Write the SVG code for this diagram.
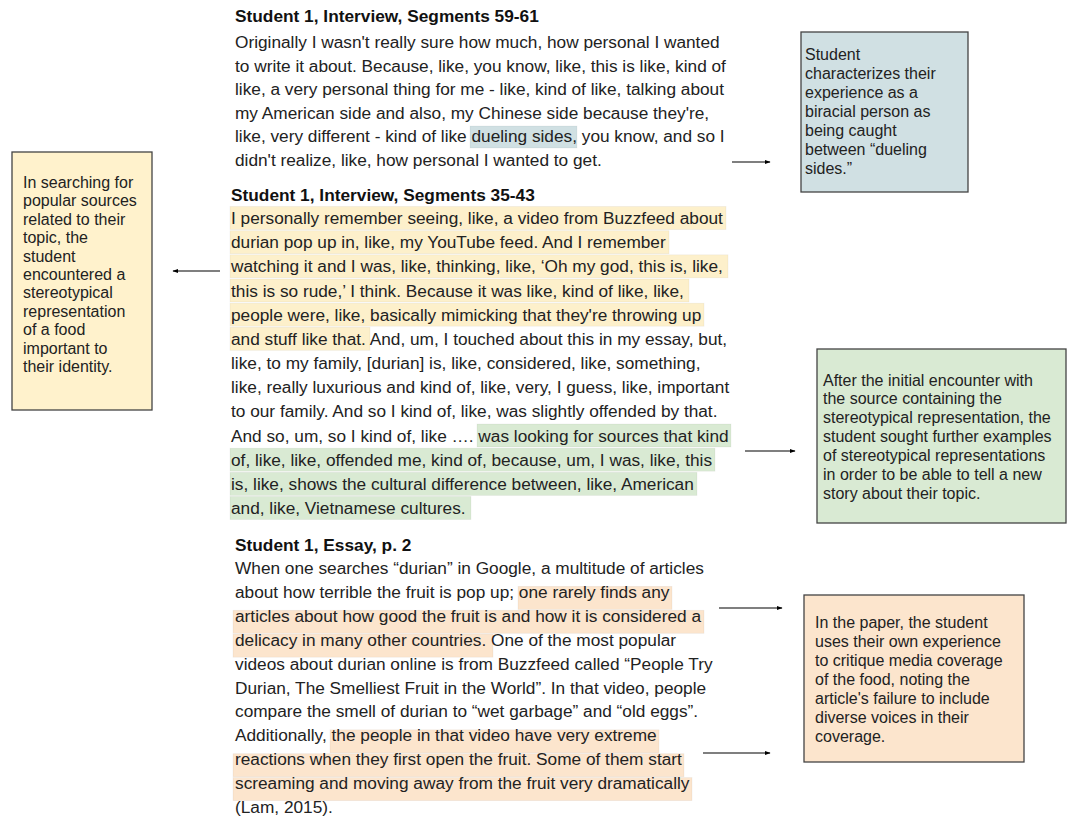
<svg xmlns="http://www.w3.org/2000/svg" width="1067" height="820" viewBox="0 0 1067 820">
<defs>
<style>
.body{font-family:"Liberation Sans",Arial,sans-serif;font-size:17.25px;fill:#222}
.head{font-family:"Liberation Sans",Arial,sans-serif;font-size:17.3px;font-weight:bold;fill:#111}
.note{font-family:"Liberation Sans",Arial,sans-serif;font-size:16px;fill:#222}
.box{stroke:#444;stroke-width:1.3}
.hy{fill:#fdf0cb;stroke:#000;stroke-opacity:0.05;stroke-width:0.8}
.hg{fill:#d9ead3;stroke:#000;stroke-opacity:0.05;stroke-width:0.8}
.ho{fill:#fce5cd;stroke:#000;stroke-opacity:0.05;stroke-width:0.8}
.hb{fill:#d0e0e3;stroke:#000;stroke-opacity:0.05;stroke-width:0.8}
.conn{stroke:#000;stroke-width:1.2;fill:none;marker-end:url(#ah)}
</style>
<marker id="ah" viewBox="0 0 10 10" refX="9" refY="5" markerWidth="6" markerHeight="6" orient="auto" markerUnits="userSpaceOnUse">
<path d="M0,1.5 L10,5 L0,8.5 Z" fill="#000"/>
</marker>
</defs>
<rect width="1067" height="820" fill="#fff"/>

<g id="excerpt-1">
<rect class="hb" x="470" y="126" width="107" height="22"/>
<text class="head" x="235" y="22">Student 1, Interview, Segments 59-61</text>
<text class="body" x="235" y="48">Originally I wasn't really sure how much, how personal I wanted</text>
<text class="body" x="235" y="71.6">to write it about. Because, like, you know, like, this is like, kind of</text>
<text class="body" x="235" y="95.2">like, a very personal thing for me - like, kind of like, talking about</text>
<text class="body" x="235" y="118.8">my American side and also, my Chinese side because they're,</text>
<text class="body" x="235" y="142.4">like, very different - kind of like dueling sides, you know, and so I</text>
<text class="body" x="235" y="166">didn't realize, like, how personal I wanted to get.</text>
</g>

<g id="excerpt-2">
<rect class="hy" x="230" y="206.5" width="496" height="23"/>
<rect class="hy" x="230" y="230.7" width="439" height="23"/>
<rect class="hy" x="230" y="254.8" width="498" height="23"/>
<rect class="hy" x="230" y="279" width="459" height="23"/>
<rect class="hy" x="230" y="303.2" width="474" height="23"/>
<rect class="hy" x="230" y="327.3" width="140" height="23"/>
<rect class="hg" x="477" y="424" width="254" height="23"/>
<rect class="hg" x="230" y="448.2" width="485" height="23"/>
<rect class="hg" x="230" y="472.4" width="467" height="23"/>
<rect class="hg" x="230" y="496.5" width="241" height="23"/>
<text class="head" x="231" y="201">Student 1, Interview, Segments 35-43</text>
<text class="body" x="231" y="224">I personally remember seeing, like, a video from Buzzfeed about</text>
<text class="body" x="231" y="248.2">durian pop up in, like, my YouTube feed. And I remember</text>
<text class="body" x="231" y="272.3">watching it and I was, like, thinking, like, ‘Oh my god, this is, like,</text>
<text class="body" x="231" y="296.5">this is so rude,’ I think. Because it was like, kind of like, like,</text>
<text class="body" x="231" y="320.7">people were, like, basically mimicking that they're throwing up</text>
<text class="body" x="231" y="344.8">and stuff like that. And, um, I touched about this in my essay, but,</text>
<text class="body" x="231" y="369">like, to my family, [durian] is, like, considered, like, something,</text>
<text class="body" x="231" y="393.2">like, really luxurious and kind of, like, very, I guess, like, important</text>
<text class="body" x="231" y="417.4">to our family. And so I kind of, like, was slightly offended by that.</text>
<text class="body" x="231" y="441.5">And so, um, so I kind of, like …. was looking for sources that kind</text>
<text class="body" x="231" y="465.7">of, like, like, offended me, kind of, because, um, I was, like, this</text>
<text class="body" x="231" y="489.9">is, like, shows the cultural difference between, like, American</text>
<text class="body" x="231" y="514">and, like, Vietnamese cultures.</text>
</g>

<g id="excerpt-3">
<rect class="ho" x="518" y="586.4" width="154" height="23"/>
<rect class="ho" x="233" y="610.3" width="471" height="23"/>
<rect class="ho" x="233" y="634.2" width="260" height="23"/>
<rect class="ho" x="330" y="729.8" width="329" height="23"/>
<rect class="ho" x="233" y="753.7" width="451" height="23"/>
<rect class="ho" x="233" y="777.6" width="459" height="23"/>
<text class="head" x="235" y="551">Student 1, Essay, p. 2</text>
<text class="body" x="235" y="574">When one searches “durian” in Google, a multitude of articles</text>
<text class="body" x="235" y="597.9">about how terrible the fruit is pop up; one rarely finds any</text>
<text class="body" x="235" y="621.8">articles about how good the fruit is and how it is considered a</text>
<text class="body" x="235" y="645.7">delicacy in many other countries. One of the most popular</text>
<text class="body" x="235" y="669.6">videos about durian online is from Buzzfeed called “People Try</text>
<text class="body" x="235" y="693.5">Durian, The Smelliest Fruit in the World”. In that video, people</text>
<text class="body" x="235" y="717.4">compare the smell of durian to “wet garbage” and “old eggs”.</text>
<text class="body" x="235" y="741.3">Additionally, the people in that video have very extreme</text>
<text class="body" x="235" y="765.2">reactions when they first open the fruit. Some of them start</text>
<text class="body" x="235" y="789.1">screaming and moving away from the fruit very dramatically</text>
<text class="body" x="235" y="813">(Lam, 2015).</text>
</g>

<g id="note-dueling">
<rect class="box" x="801" y="32" width="167" height="160" fill="#d0e0e3"/>
<text class="note" x="805" y="60">Student</text>
<text class="note" x="805" y="79">characterizes their</text>
<text class="note" x="805" y="98">experience as a</text>
<text class="note" x="805" y="117">biracial person as</text>
<text class="note" x="805" y="136">being caught</text>
<text class="note" x="805" y="155">between “dueling</text>
<text class="note" x="805" y="174">sides.”</text>
</g>

<g id="note-searching">
<rect class="box" x="12" y="152" width="140" height="258" fill="#fff2cc"/>
<text class="note" x="23" y="188">In searching for</text>
<text class="note" x="23" y="206.4">popular sources</text>
<text class="note" x="23" y="224.8">related to their</text>
<text class="note" x="23" y="243.2">topic, the</text>
<text class="note" x="23" y="261.6">student</text>
<text class="note" x="23" y="280">encountered a</text>
<text class="note" x="23" y="298.4">stereotypical</text>
<text class="note" x="23" y="316.8">representation</text>
<text class="note" x="23" y="335.2">of a food</text>
<text class="note" x="23" y="353.6">important to</text>
<text class="note" x="23" y="372">their identity.</text>
</g>

<g id="note-further">
<rect class="box" x="817" y="349" width="249" height="174" fill="#d9ead3"/>
<text class="note" x="823" y="385.5">After the initial encounter with</text>
<text class="note" x="823" y="404.4">the source containing the</text>
<text class="note" x="823" y="423.3">stereotypical representation, the</text>
<text class="note" x="823" y="442.2">student sought further examples</text>
<text class="note" x="823" y="461.1">of stereotypical representations</text>
<text class="note" x="823" y="480">in order to be able to tell a new</text>
<text class="note" x="823" y="498.9">story about their topic.</text>
</g>

<g id="note-paper">
<rect class="box" x="804" y="595" width="220" height="167" fill="#fce5cd"/>
<text class="note" x="815" y="627.5">In the paper, the student</text>
<text class="note" x="815" y="646.5">uses their own experience</text>
<text class="note" x="815" y="665.5">to critique media coverage</text>
<text class="note" x="815" y="684.5">of the food, noting the</text>
<text class="note" x="815" y="703.5">article's failure to include</text>
<text class="note" x="815" y="722.5">diverse voices in their</text>
<text class="note" x="815" y="741.5">coverage.</text>
</g>

<g id="connectors">
<line class="conn" x1="732" y1="162" x2="770" y2="162"/>
<line class="conn" x1="220" y1="271" x2="173" y2="271"/>
<line class="conn" x1="745" y1="451" x2="795" y2="451"/>
<line class="conn" x1="719" y1="608" x2="782" y2="608"/>
<line class="conn" x1="703" y1="753" x2="770" y2="753"/>
</g>
</svg>
